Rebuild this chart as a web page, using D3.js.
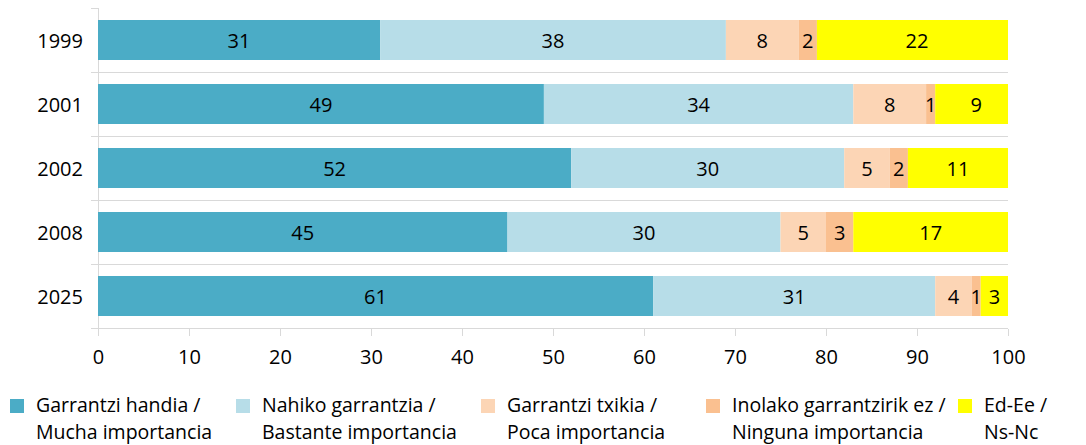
<!DOCTYPE html>
<meta charset="utf-8">
<style>
    body { margin: 0; background: #fff; }
    text { font-family: "Open Sans", sans-serif; fill: #000; }
    .grid line, .axis line, .axis path { stroke: #d9d9d9; shape-rendering: crispEdges; }
</style>
<body>
<script src="https://d3js.org/d3.v7.min.js"></script>
<script>

    var years = ["1999", "2001", "2002", "2008", "2025"];
    var mucha = [31, 49, 52, 45, 61];
    var bastante = [38, 34, 30, 30, 31];
    var poca = [8, 8, 5, 5, 4];
    var ninguna = [2, 1, 2, 3, 1];
    var nsnc = [22, 9, 11, 17, 3];
    var xTicks = [0, 10, 20, 30, 40, 50, 60, 70, 80, 90, 100];

    var seriesNames = [
        ["Garrantzi handia /", "Mucha importancia"],
        ["Nahiko garrantzia /", "Bastante importancia"],
        ["Garrantzi txikia /", "Poca importancia"],
        ["Inolako garrantzirik ez /", "Ninguna importancia"],
        ["Ed-Ee /", "Ns-Nc"]
    ];
    var colors = ["#4bacc6", "#b7dde8", "#fcd5b5", "#fac090", "#ffff00"];
    var series = [mucha, bastante, poca, ninguna, nsnc];

    var width = 1086, height = 445, fs = "20px";

    var svg = d3.select("body").append("svg")
            .attr("width", width)
            .attr("height", height);

    var x = d3.scaleLinear().domain([0, 100]).range([98, 1008]);
    var y = d3.scaleBand().domain(years).range([8, 328])
            .paddingInner(0.375).paddingOuter(0.1875);
    var step = y.step();

    // separadores de categoria + eje y
    var bounds = d3.range(years.length + 1).map(function(i) { return 8 + i * step; });
    svg.append("g").attr("class", "grid")
            .selectAll("line").data(bounds.slice(1, -1))
            .enter().append("line")
            .attr("x1", 91).attr("x2", 1008)
            .attr("y1", function(d) { return Math.round(d) + 0.5; })
            .attr("y2", function(d) { return Math.round(d) + 0.5; });
    svg.append("g").attr("class", "grid")
            .selectAll("line").data([bounds[0], bounds[bounds.length - 1]])
            .enter().append("line")
            .attr("x1", 91).attr("x2", 98)
            .attr("y1", function(d) { return Math.round(d) + 0.5; })
            .attr("y2", function(d) { return Math.round(d) + 0.5; });
    svg.append("line")
            .style("stroke", "#d9d9d9")
            .attr("x1", 98.5).attr("x2", 98.5)
            .attr("y1", 8).attr("y2", 328);

    // barras
    years.forEach(function(yr, i) {
        var start = 0;
        series.forEach(function(s, k) {
            var v = s[i];
            var end = start + v;
            svg.append("rect")
                    .attr("x", x(start))
                    .attr("y", y(yr))
                    .attr("width", x(Math.min(end, 100)) - x(start))
                    .attr("height", y.bandwidth())
                    .attr("fill", colors[k]);
            svg.append("text")
                    .attr("x", x(start + v / 2))
                    .attr("y", y(yr) + y.bandwidth() / 2 + 7.5)
                    .attr("text-anchor", "middle")
                    .style("font-size", fs)
                    .text(v);
            start = end;
        });
    });

    // etiquetas y
    svg.selectAll(".ylab").data(years).enter().append("text")
            .attr("x", 83)
            .attr("y", function(d) { return y(d) + y.bandwidth() / 2 + 7.5; })
            .attr("text-anchor", "end")
            .style("font-size", fs)
            .text(function(d) { return d; });

    // eje x
    var xAxis = svg.append("g").attr("class", "axis")
            .attr("transform", "translate(0,328.5)")
            .call(d3.axisBottom(x).tickValues(xTicks).tickSize(7).tickPadding(14));
    xAxis.select(".domain").attr("d", "M91,0H1008");
    xAxis.selectAll("text").style("font-size", fs).attr("fill", "#000")
            .style("font-family", "'Open Sans', sans-serif");

    // leyenda
    var legX = [10, 236, 481, 706, 958];
    var leg = svg.selectAll(".leg").data(seriesNames).enter().append("g")
            .attr("transform", function(d, i) { return "translate(" + legX[i] + ",0)"; });
    leg.append("rect").attr("x", 0).attr("y", 399).attr("width", 14).attr("height", 14)
            .attr("fill", function(d, i) { return colors[i]; });
    leg.append("text").attr("x", 26).attr("y", 412).style("font-size", "19.5px")
            .text(function(d) { return d[0]; });
    leg.append("text").attr("x", 26).attr("y", 439).style("font-size", "19.5px")
            .text(function(d) { return d[1]; });

</script>
</body>
